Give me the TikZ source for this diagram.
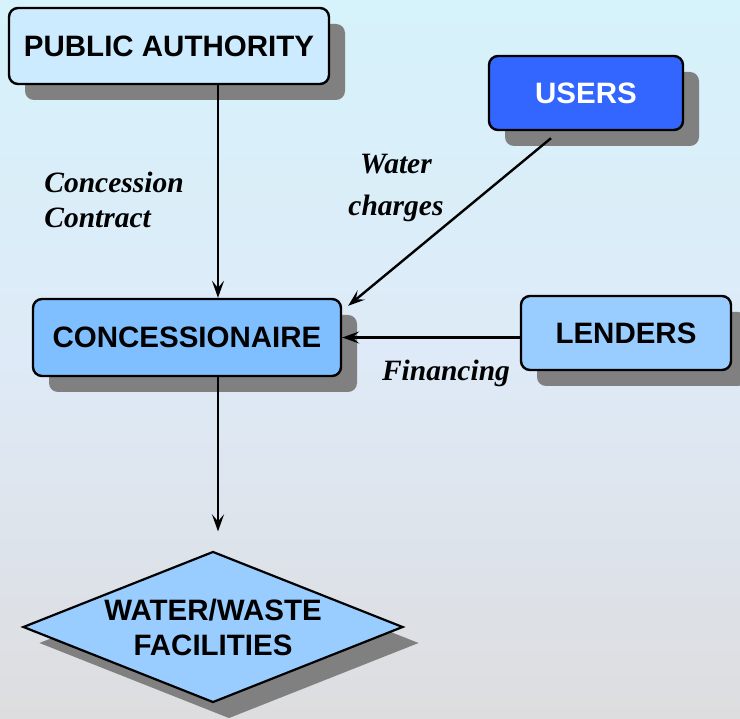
\documentclass[tikz,border=0pt]{standalone}
\usepackage{fontspec}
\setmainfont{Liberation Serif}
\setsansfont{Liberation Sans}
\usetikzlibrary{shapes.geometric,shadows,arrows.meta}
\definecolor{pafill}{RGB}{204,235,255}
\definecolor{usersfill}{RGB}{51,102,255}
\definecolor{concfill}{RGB}{128,191,255}
\definecolor{lendfill}{RGB}{153,204,255}
\definecolor{shadowgray}{RGB}{128,128,128}
\definecolor{bgtop}{RGB}{214,242,250}
\definecolor{bgmid}{RGB}{222,234,247}
\definecolor{bgbot}{RGB}{221,221,223}
\tikzset{
  boxnode/.style={draw=black, line width=2.4pt, rounded corners=9pt, inner sep=0pt,
    font=\sffamily\bfseries\fontsize{29.5}{34}\selectfont,
    drop shadow={shadow xshift=16pt, shadow yshift=-16pt, fill=shadowgray, opacity=1}},
  lbl/.style={font=\rmfamily\bfseries\itshape\fontsize{29.5}{35}\selectfont, inner sep=0pt},
  arr/.style={line width=2.4pt, -{Stealth[length=17pt,width=12pt,inset=7pt]}}
}
\begin{document}
\begin{tikzpicture}[x=1pt,y=-1pt]
\useasboundingbox (0,0) rectangle (740,719);
\shade[top color=bgtop, bottom color=bgbot, middle color=bgmid] (0,0) rectangle (740,719);

\node[boxnode, fill=pafill, minimum width=320pt, minimum height=76pt] (pa) at (169,46) {PUBLIC AUTHORITY};
\node[boxnode, fill=usersfill, text=white, minimum width=194pt, minimum height=74pt] (users) at (586,93) {USERS};
\node[boxnode, fill=concfill, minimum width=308pt, minimum height=77pt] (conc) at (187,337.5) {CONCESSIONAIRE};
\node[boxnode, fill=lendfill, minimum width=210pt, minimum height=74pt] (lend) at (626,333) {LENDERS};
\node[diamond, draw=black, line width=2.2pt, fill=lendfill, inner sep=0pt, aspect=2.5,
  minimum width=380pt, minimum height=151pt, align=center,
  font=\sffamily\bfseries\fontsize{29.5}{35}\selectfont,
  drop shadow={shadow xshift=16pt, shadow yshift=-16pt, fill=shadowgray, opacity=1}] (fac) at (213,627) {WATER/WASTE\\FACILITIES};

\draw[arr] ([xshift=49pt]pa.south) -- ([xshift=31pt]conc.north);
\draw[arr, shorten >=19pt] ([xshift=31pt]conc.south) -- ([xshift=31pt]conc.south |- fac.north);
\draw[arr] ([xshift=-35pt,yshift=-7pt]users.south) -- ([xshift=6pt,yshift=-8pt]conc.north east);
\draw[arr] (lend.west |- conc.east) -- (conc.east);

\node[lbl, align=left] (lc) at (114,200) {Concession\\Contract};
\node[lbl, align=center, font=\rmfamily\bfseries\itshape\fontsize{29.5}{42}\selectfont] (lw) at (396,188) {Water\\charges};
\node[lbl, anchor=base] (lf) at (446,381) {Financing};
\end{tikzpicture}
\end{document}
